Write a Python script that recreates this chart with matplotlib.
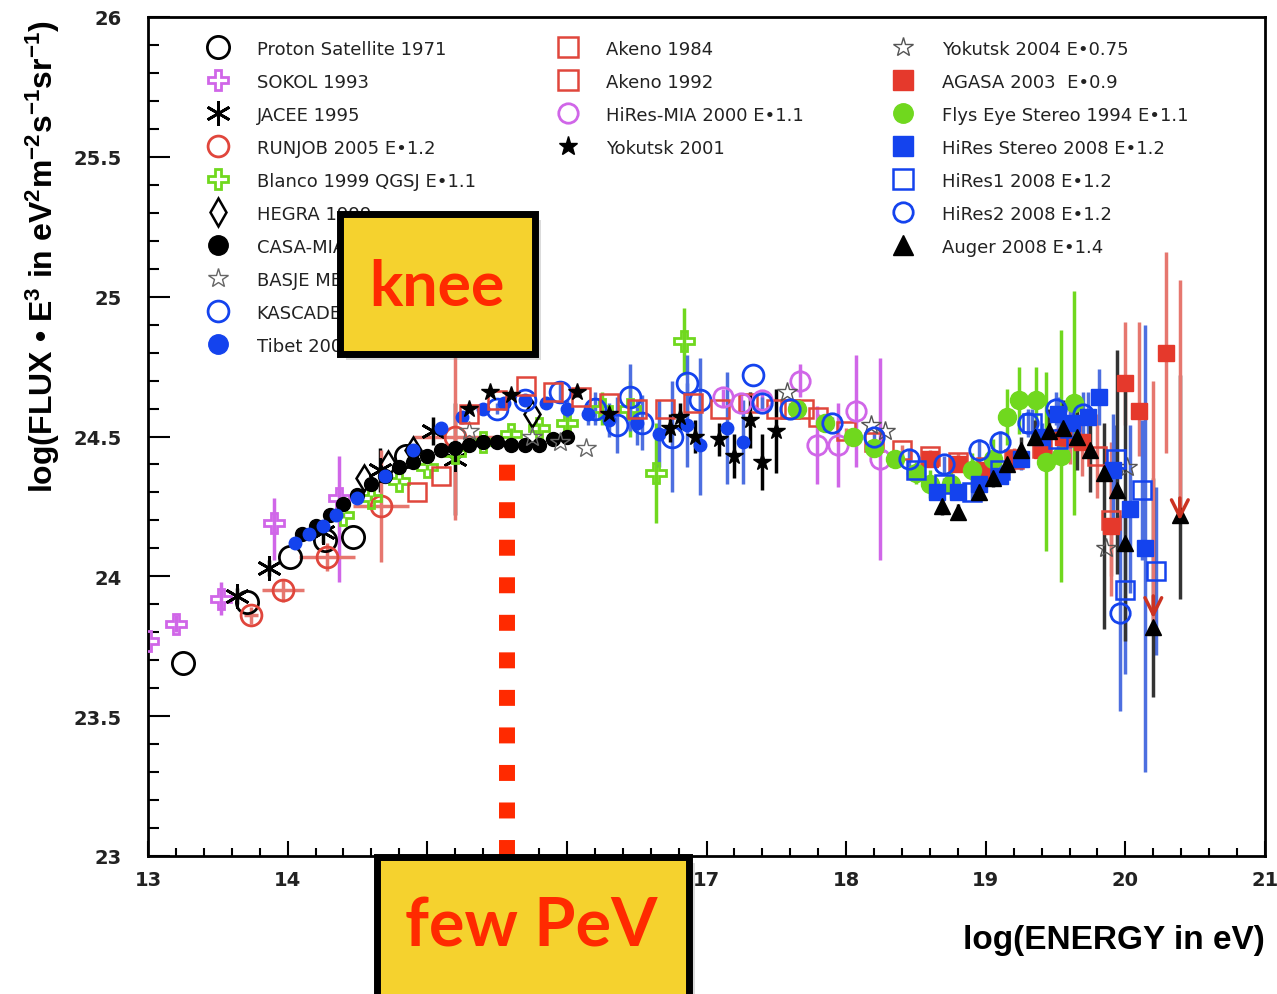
import numpy as np
import matplotlib
matplotlib.use('Agg')
import matplotlib.pyplot as plt
from matplotlib.lines import Line2D
from matplotlib.patches import Rectangle
from matplotlib.ticker import MultipleLocator, FuncFormatter

plt.rcParams['font.family'] = ['Liberation Sans', 'DejaVu Sans']
plt.rcParams['mathtext.fontset'] = 'custom'
plt.rcParams['mathtext.rm'] = 'Liberation Sans:bold'
plt.rcParams['mathtext.bf'] = 'Liberation Sans:bold'
plt.rcParams['mathtext.default'] = 'bf'

RED = '#e5392c'
RED_ERR = '#e6776f'
VIOLET = '#d066e8'
GREEN = '#70d81e'
BLUE = '#1443ee'
BLUE_ERR = '#4d6fe0'
BLACK = 'black'

# ---- data (log10 E [eV], log10 flux*E^3) ----
proton_x = [13.25, 13.71, 14.02, 14.27, 14.47, 14.85]
proton_y = [23.69, 23.91, 24.07, 24.13, 24.14, 24.43]

sokol_x = [13.0, 13.2, 13.52, 13.9, 14.37]
sokol_y = [23.77, 23.83, 23.92, 24.19, 24.28]
sokol_lo = [0.03, 0.03, 0.06, 0.13, 0.30]
sokol_hi = [0.03, 0.03, 0.06, 0.09, 0.15]

jacee_x = [13.64, 13.87, 14.25, 14.66, 15.04, 15.2]
jacee_y = [23.93, 24.03, 24.16, 24.38, 24.52, 24.42]
jacee_err = [0.03, 0.03, 0.04, 0.08, 0.05, 0.2]

runjob_x = [13.74, 13.97, 14.28, 14.67, 15.2]
runjob_y = [23.86, 23.95, 24.07, 24.25, 24.5]
runjob_xerr = [0.05, 0.15, 0.2, 0.2, 0.3]
runjob_yerr = [0.03, 0.04, 0.05, 0.2, 0.3]

blanco_x = [14.4, 14.6, 14.8, 15.0, 15.2, 15.4, 15.6, 15.8, 16.0, 16.25, 16.45, 16.64, 16.84]
blanco_y = [24.22, 24.28, 24.34, 24.39, 24.44, 24.48, 24.51, 24.53, 24.55, 24.6, 24.6, 24.37, 24.84]
blanco_err = [0.01, 0.01, 0.01, 0.01, 0.01, 0.01, 0.02, 0.02, 0.03, 0.06, 0.1, 0.18, 0.12]

hegra_x = [14.55, 14.72, 14.9, 15.75]
hegra_y = [24.35, 24.4, 24.45, 24.58]

casa_x = [14.1, 14.2, 14.3, 14.4, 14.5, 14.6, 14.7, 14.8, 14.9, 15.0,
          15.1, 15.2, 15.3, 15.4, 15.5, 15.6, 15.7, 15.8, 15.9, 16.0]
casa_y = [24.15, 24.18, 24.22, 24.26, 24.29, 24.33, 24.36, 24.39, 24.41, 24.43,
          24.45, 24.46, 24.47, 24.48, 24.48, 24.47, 24.47, 24.47, 24.49, 24.5]

basje_x = [15.3, 15.75, 15.95, 16.14]
basje_y = [24.52, 24.5, 24.48, 24.46]

kascade_x = [15.5, 15.7, 15.95, 16.2, 16.36, 16.45, 16.54, 16.75, 16.86, 16.95, 17.33]
kascade_y = [24.6, 24.63, 24.66, 24.6, 24.54, 24.64, 24.55, 24.5, 24.69, 24.63, 24.72]
kascade_err = [0.02, 0.02, 0.03, 0.06, 0.1, 0.12, 0.1, 0.2, 0.1, 0.15, 0.0]

tibet_x = [14.05, 14.15, 14.25, 14.35, 14.5, 14.7, 14.9, 15.1, 15.25, 15.4, 15.55,
           15.7, 15.85, 16.0, 16.15, 16.3, 16.5, 16.66, 16.86, 16.95, 17.15, 17.26]
tibet_y = [24.12, 24.15, 24.18, 24.22, 24.28, 24.36, 24.45, 24.53, 24.57, 24.6, 24.62,
           24.63, 24.62, 24.6, 24.58, 24.56, 24.55, 24.51, 24.54, 24.47, 24.53, 24.48]
tibet_err = [0.01, 0.01, 0.01, 0.01, 0.01, 0.01, 0.01, 0.01, 0.01, 0.01, 0.01,
             0.02, 0.02, 0.03, 0.04, 0.06, 0.08, 0.12, 0.15, 0.18, 0.2, 0.15]

akeno84_x = [14.93, 15.1, 15.3, 15.5, 15.71, 15.9, 16.1, 16.3, 16.5, 16.7, 16.9, 17.1, 17.3, 17.5, 17.7]
akeno84_y = [24.3, 24.36, 24.58, 24.63, 24.68, 24.66, 24.64, 24.62, 24.6, 24.6, 24.62, 24.6, 24.62, 24.6, 24.6]

akeno92_x = [17.6, 17.8, 18.0, 18.2, 18.4, 18.6, 18.8, 19.0, 19.2, 19.4, 19.6, 19.8, 19.9]
akeno92_y = [24.6, 24.57, 24.52, 24.48, 24.45, 24.43, 24.41, 24.39, 24.42, 24.46, 24.5, 24.43, 24.2]
akeno92_err = [0.01, 0.01, 0.01, 0.01, 0.02, 0.02, 0.03, 0.03, 0.04, 0.06, 0.1, 0.15, 0.2]

hiresmia_x = [17.12, 17.25, 17.4, 17.67, 17.79, 17.94, 18.07, 18.24]
hiresmia_y = [24.64, 24.62, 24.63, 24.7, 24.47, 24.47, 24.59, 24.42]
hiresmia_err = [0.03, 0.03, 0.03, 0.06, 0.14, 0.15, 0.2, 0.36]

yak01_x = [15.3, 15.45, 15.6, 16.07, 16.3, 16.74, 16.81, 16.92, 17.09, 17.2, 17.31, 17.4, 17.5]
yak01_y = [24.6, 24.66, 24.65, 24.66, 24.58, 24.53, 24.57, 24.5, 24.49, 24.43, 24.56, 24.41, 24.52]
yak01_err = [0.01, 0.01, 0.01, 0.02, 0.03, 0.05, 0.05, 0.06, 0.06, 0.08, 0.1, 0.1, 0.15]

yak04_x = [17.58, 18.18, 18.28, 19.86, 20.01]
yak04_y = [24.66, 24.54, 24.52, 24.1, 24.39]

agasa_x = [18.6, 18.8, 19.0, 19.2, 19.4, 19.55, 19.69, 19.9, 20.0, 20.1, 20.29]
agasa_y = [24.42, 24.4, 24.38, 24.42, 24.45, 24.5, 24.48, 24.18, 24.69, 24.59, 24.8]
agasa_lo = [0.02, 0.02, 0.03, 0.03, 0.04, 0.06, 0.12, 0.25, 0.15, 0.16, 0.36]
agasa_hi = [0.02, 0.02, 0.03, 0.03, 0.04, 0.06, 0.12, 0.3, 0.22, 0.32, 0.36]
agasa_lim_x = [20.2, 20.39]
agasa_lim_y = [23.84, 24.19]
agasa_lim_top = [24.7, 25.06]

flys_x = [17.65, 17.85, 18.05, 18.2, 18.35, 18.5, 18.6, 18.75, 18.9, 19.05, 19.15, 19.24, 19.36, 19.43, 19.54, 19.63]
flys_y = [24.6, 24.55, 24.5, 24.46, 24.42, 24.37, 24.33, 24.33, 24.38, 24.42, 24.57, 24.63, 24.63, 24.41, 24.43, 24.62]
flys_err = [0.02, 0.02, 0.02, 0.03, 0.03, 0.04, 0.05, 0.05, 0.06, 0.07, 0.1, 0.12, 0.12, 0.32, 0.45, 0.4]

hst_x = [18.65, 18.8, 18.95, 19.1, 19.25, 19.4, 19.52, 19.62, 19.73, 19.81, 19.91, 20.03, 20.14]
hst_y = [24.3, 24.3, 24.33, 24.36, 24.42, 24.5, 24.58, 24.55, 24.57, 24.64, 24.38, 24.24, 24.1]
hst_err = [0.02, 0.02, 0.03, 0.03, 0.04, 0.05, 0.06, 0.07, 0.09, 0.1, 0.2, 0.3, 0.8]

hr1_x = [18.5, 18.7, 18.9, 19.1, 19.33, 19.52, 19.6, 19.93, 20.0, 20.12, 20.22]
hr1_y = [24.38, 24.33, 24.3, 24.38, 24.55, 24.49, 24.53, 24.42, 23.95, 24.31, 24.02]
hr1_err = [0.02, 0.02, 0.03, 0.03, 0.05, 0.06, 0.07, 0.12, 0.3, 0.25, 0.3]

hr2_x = [17.4, 17.6, 17.9, 18.2, 18.45, 18.7, 18.95, 19.1, 19.3, 19.5, 19.7, 19.96]
hr2_y = [24.62, 24.6, 24.55, 24.5, 24.42, 24.4, 24.45, 24.48, 24.55, 24.6, 24.58, 23.87]
hr2_err = [0.02, 0.02, 0.02, 0.02, 0.03, 0.03, 0.04, 0.04, 0.05, 0.06, 0.08, 0.35]

auger_x = [18.69, 18.8, 18.95, 19.05, 19.15, 19.25, 19.35, 19.45, 19.55, 19.65, 19.75, 19.85, 19.94, 20.0, 20.2, 20.39]
auger_y = [24.25, 24.23, 24.3, 24.35, 24.4, 24.45, 24.5, 24.52, 24.53, 24.5, 24.45, 24.37, 24.31, 24.12, 23.82, 24.22]
auger_lo = [0.03, 0.03, 0.03, 0.03, 0.04, 0.05, 0.06, 0.08, 0.1, 0.12, 0.15, 0.56, 0.3, 0.35, 0.25, 0.3]
auger_hi = [0.03, 0.03, 0.03, 0.03, 0.04, 0.05, 0.06, 0.08, 0.1, 0.12, 0.15, 0.18, 0.5, 0.6, 0.53, 0.5]

knee_energy = 15.57
knee_flux = 24.41

fig = plt.figure(figsize=(12.77, 9.95), dpi=100)
ax = fig.add_axes([148 / 1277, 1 - 857 / 995, (1265 - 148) / 1277, (857 - 18) / 995])

handles = []


def draw(label, x, y, lo, hi, ecolor, xerr=None, **mk):
    if lo is not None:
        ax.errorbar(x, y, yerr=[lo, hi], xerr=xerr, fmt='none', ecolor=ecolor,
                    elinewidth=2.5, capsize=0, zorder=2)
    ax.plot(x, y, ls='none', zorder=3, **mk)
    leg_mk = dict(mk)
    leg_mk['ms'] = max(mk.get('ms', 10), 14)
    handles.append(Line2D([], [], ls='none', label=label, **leg_mk))


def open_mk(m, c, ms=14, mew=2):
    return dict(marker=m, mfc='none', mec=c, mew=mew, ms=ms)


def full_mk(m, c, ms=10):
    return dict(marker=m, mfc=c, mec=c, ms=ms)


draw('Proton Satellite 1971', proton_x, proton_y, None, None, BLACK, **open_mk('o', BLACK, 16))
draw('SOKOL 1993', sokol_x, sokol_y, sokol_lo, sokol_hi, VIOLET, **open_mk('P', VIOLET, 15))
draw('JACEE 1995', jacee_x, jacee_y, jacee_err, jacee_err, BLACK, **dict(marker=(6, 2, 0), mec=BLACK, mew=2, ms=18))
draw('RUNJOB 2005 E\u20221.2', runjob_x, runjob_y, runjob_yerr, runjob_yerr, RED_ERR,
     xerr=runjob_xerr, **open_mk('o', '#e0463c', 15))
draw('Blanco 1999 QGSJ E\u20221.1', blanco_x, blanco_y, blanco_err, blanco_err, GREEN, **open_mk('P', GREEN, 15))
draw('HEGRA 1999', hegra_x, hegra_y, None, None, BLACK, **open_mk('d', BLACK, 13, 1.8))
draw('CASA-MIA', casa_x, casa_y, None, None, BLACK, **full_mk('o', BLACK, 10))
draw('BASJE MBC', basje_x, basje_y, None, None, '#666666', **open_mk('*', '#666666', 15, 1))
draw('KASCADE', kascade_x, kascade_y, kascade_err, kascade_err, BLUE_ERR, **open_mk('o', BLUE, 15))
draw('Tibet 2008', tibet_x, tibet_y, tibet_err, tibet_err, BLUE_ERR, **full_mk('o', BLUE, 9))

draw('Akeno 1984', akeno84_x, akeno84_y, None, None, RED, **open_mk('s', '#e0463c', 13, 1.8))
draw('Akeno 1992', akeno92_x, akeno92_y, akeno92_err, akeno92_err, RED_ERR, **open_mk('s', '#e0463c', 13, 1.8))
draw('HiRes-MIA 2000 E\u20221.1', hiresmia_x, hiresmia_y, hiresmia_err, hiresmia_err, VIOLET, **open_mk('o', VIOLET, 14))
draw('Yokutsk 2001', yak01_x, yak01_y, yak01_err, yak01_err, BLACK, **full_mk('*', BLACK, 13))

draw('Yokutsk 2004 E\u20220.75', yak04_x, yak04_y, None, None, '#555555', **open_mk('*', '#555555', 15, 1))
draw('AGASA 2003  E\u20220.9', agasa_x, agasa_y, agasa_lo, agasa_hi, RED_ERR, **full_mk('s', RED, 12))
draw('Flys Eye Stereo 1994 E\u20221.1', flys_x, flys_y, flys_err, flys_err, GREEN, **full_mk('o', GREEN, 13))
draw('HiRes Stereo 2008 E\u20221.2', hst_x, hst_y, hst_err, hst_err, BLUE_ERR, **full_mk('s', BLUE, 11))
draw('HiRes1 2008 E\u20221.2', hr1_x, hr1_y, hr1_err, hr1_err, BLUE_ERR, **open_mk('s', BLUE, 13, 1.8))
draw('HiRes2 2008 E\u20221.2', hr2_x, hr2_y, hr2_err, hr2_err, BLUE_ERR, **open_mk('o', BLUE, 14))
draw('Auger 2008 E\u20221.4', auger_x, auger_y, auger_lo, auger_hi, '#333333', **full_mk('^', BLACK, 11))

# AGASA upper limits
ax.vlines(agasa_lim_x, agasa_lim_y, agasa_lim_top, color=RED_ERR, lw=2.5, zorder=2)
for lx, ly in zip(agasa_lim_x, agasa_lim_y):
    ax.annotate('', xy=(lx, ly), xytext=(lx, ly + 0.1),
                arrowprops=dict(arrowstyle='->', color='#cc3322', lw=2.5, mutation_scale=30),
                zorder=4)

# knee marker line
ax.plot([knee_energy, knee_energy], [23.0, knee_flux], color='#ff2a00', lw=11.5,
        ls=(0, (1.0, 1.35)), solid_capstyle='butt', dash_capstyle='butt', zorder=5, clip_on=False)

ax.set_xlim(13, 21)
ax.set_ylim(23, 26)
ax.xaxis.set_major_locator(MultipleLocator(1))
ax.xaxis.set_minor_locator(MultipleLocator(0.2))
ax.yaxis.set_major_locator(MultipleLocator(0.5))
ax.yaxis.set_minor_locator(MultipleLocator(0.1))
fmt = FuncFormatter(lambda v, p: '%g' % v)
ax.xaxis.set_major_formatter(fmt)
ax.yaxis.set_major_formatter(fmt)
ax.tick_params(axis='x', which='major', direction='in', length=11, width=1.5, pad=10, labelsize=14)
ax.tick_params(axis='x', which='minor', direction='in', length=6, width=1.5)
ax.tick_params(axis='y', which='major', direction='in', length=16, width=1.5, pad=19, labelsize=14)
ax.tick_params(axis='y', which='minor', direction='in', length=8, width=1.5)
for lab in ax.get_xticklabels() + ax.get_yticklabels():
    lab.set_fontweight('bold')
    lab.set_family('DejaVu Sans')
    lab.set_color('#222222')
for s in ax.spines.values():
    s.set_linewidth(2)

ax.set_ylabel('log(FLUX \u2022 E$^{3}$ in eV$^{2}$m$^{-2}$s$^{-1}$sr$^{-1}$)', fontsize=23, fontweight='bold')
ax.yaxis.set_label_coords(-0.077, 0.716)
ax.set_xlabel('log(ENERGY in eV)', fontsize=24, fontweight='bold', loc='right')
ax.xaxis.set_label_coords(1.0, -0.081)

# three legend columns
leg_kw = dict(frameon=False, handlelength=1.2, handletextpad=1.55,
              labelspacing=0.83, borderpad=0, borderaxespad=0, loc='upper left',
              prop={'family': 'DejaVu Sans', 'size': 13})
l1 = ax.legend(handles=handles[:10], bbox_to_anchor=(0.0528, 0.973), **leg_kw)
ax.add_artist(l1)
l2 = ax.legend(handles=handles[10:14], bbox_to_anchor=(0.366, 0.973), **leg_kw)
ax.add_artist(l2)
l3 = ax.legend(handles=handles[14:], bbox_to_anchor=(0.666, 0.973), **leg_kw)
for leg in (l1, l2, l3):
    for t in leg.get_texts():
        t.set_color('#222222')

# yellow callout boxes
YELLOW = '#f5d22e'
for (x0, y0, w, h) in [(340, 215, 195, 140), (377, 858, 312, 140)]:
    fig.patches.append(Rectangle(((x0 + 6) / 1277, 1 - (y0 + h + 6) / 995), w / 1277, h / 995,
                                 transform=fig.transFigure, facecolor='#999999', alpha=0.35,
                                 edgecolor='none', zorder=9))
    fig.patches.append(Rectangle((x0 / 1277, 1 - (y0 + h) / 995), w / 1277, h / 995,
                                 transform=fig.transFigure, facecolor=YELLOW,
                                 edgecolor='black', lw=5, zorder=10))
fig.text(437 / 1277, 1 - 288 / 995, 'knee', family='Lato', fontweight='bold', fontsize=45,
         color='#ff2a00', ha='center', va='center', zorder=11)
fig.text(531 / 1277, 1 - 928 / 995, 'few PeV', family='Lato', fontweight='bold', fontsize=48,
         color='#ff2a00', ha='center', va='center', zorder=11)

fig.savefig('out.png', dpi=100)
